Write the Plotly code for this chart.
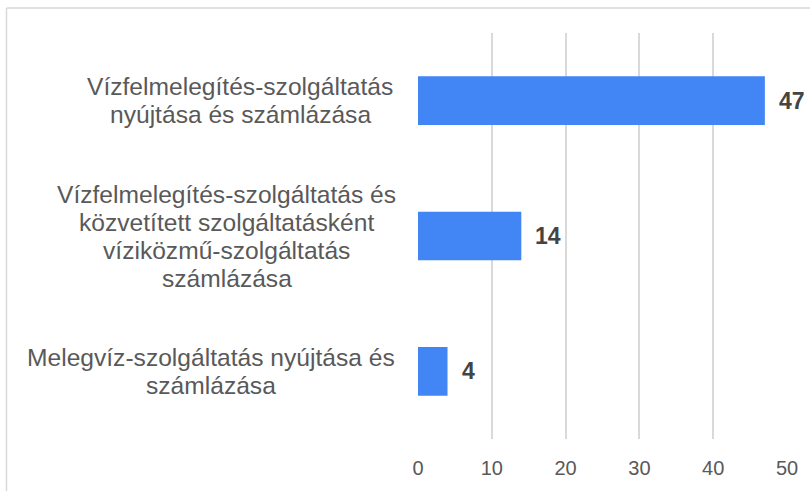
import plotly.graph_objects as go

categories = [
    "Vízfelmelegítés-szolgáltatás<br>nyújtása és számlázása",
    "Vízfelmelegítés-szolgáltatás és<br>közvetített szolgáltatásként<br>víziközmű-szolgáltatás<br>számlázása",
    "Melegvíz-szolgáltatás nyújtása és<br>számlázása",
]
values = [47, 14, 4]
tick_vals = [0, 10, 20, 30, 40, 50]
tick_text = ["0", "10", "20", "30", "40", "50"]

FONT = "Liberation Sans, Arial, sans-serif"
BAR_COLOR = "#4285F4"
TEXT_COLOR = "#595959"

pl, pr, pt, pb = 418, 787, 33, 447
W, H = 810, 491
pw, ph = pr - pl, pb - pt
def px(x):
    return (x - pl) / pw
def py(y):
    return 1 - (y - pt) / ph

# horizontal centre of each label block (page px)
label_centers = [240, 226.5, 210.5]
LINE_H = 28

fig = go.Figure()
fig.add_trace(go.Bar(
    x=values, y=list(range(len(categories))), orientation="h",
    marker=dict(color=BAR_COLOR, line=dict(width=0)),
    width=0.36, hoverinfo="skip",
))

annotations = []
for i, (cat, v) in enumerate(zip(categories, values)):
    lines = cat.split("<br>")
    n = len(lines)
    for k, line in enumerate(lines):
        annotations.append(dict(
            x=px(label_centers[i]), xref="paper", y=i, yref="y", text=line,
            showarrow=False, xanchor="center", yanchor="middle",
            yshift=-(k - (n - 1) / 2) * LINE_H,
            font=dict(family=FONT, size=24.6, color=TEXT_COLOR),
        ))
    annotations.append(dict(
        x=v, xref="x", y=i, yref="y", text="<b>%d</b>" % v, showarrow=False,
        xanchor="left", yanchor="middle", xshift=12,
        font=dict(family=FONT, size=23, color="#444444"),
    ))

shapes = [
    dict(type="line", xref="paper", yref="paper", x0=px(6.5), x1=px(820), y0=py(7.5), y1=py(7.5),
         line=dict(color="#d9d9d9", width=1.5)),
    dict(type="line", xref="paper", yref="paper", x0=px(6.5), x1=px(6.5), y0=py(7.5), y1=py(500),
         line=dict(color="#d9d9d9", width=1.5)),
]

fig.update_layout(
    width=W, height=H,
    margin=dict(l=pl, r=W - pr, t=pt, b=H - pb),
    paper_bgcolor="white", plot_bgcolor="white",
    showlegend=False,
    annotations=annotations,
    shapes=shapes,
    font=dict(family=FONT, color=TEXT_COLOR),
    xaxis=dict(
        range=[0, 50], tickvals=tick_vals, ticktext=tick_text,
        showgrid=True, gridcolor="#d9d9d9", gridwidth=1.5,
        zeroline=False, showline=False,
        ticks="outside", ticklen=11, tickcolor="rgba(0,0,0,0)",
        tickfont=dict(family=FONT, size=20, color=TEXT_COLOR),
        fixedrange=True,
    ),
    yaxis=dict(
        range=[2.5, -0.5], showticklabels=False, showgrid=False,
        zeroline=False, showline=False, fixedrange=True,
    ),
)

fig.write_html(
    "out.html",
    config={"displayModeBar": False},
    post_script="document.body.style.margin='0';document.body.style.overflow='hidden';",
)
